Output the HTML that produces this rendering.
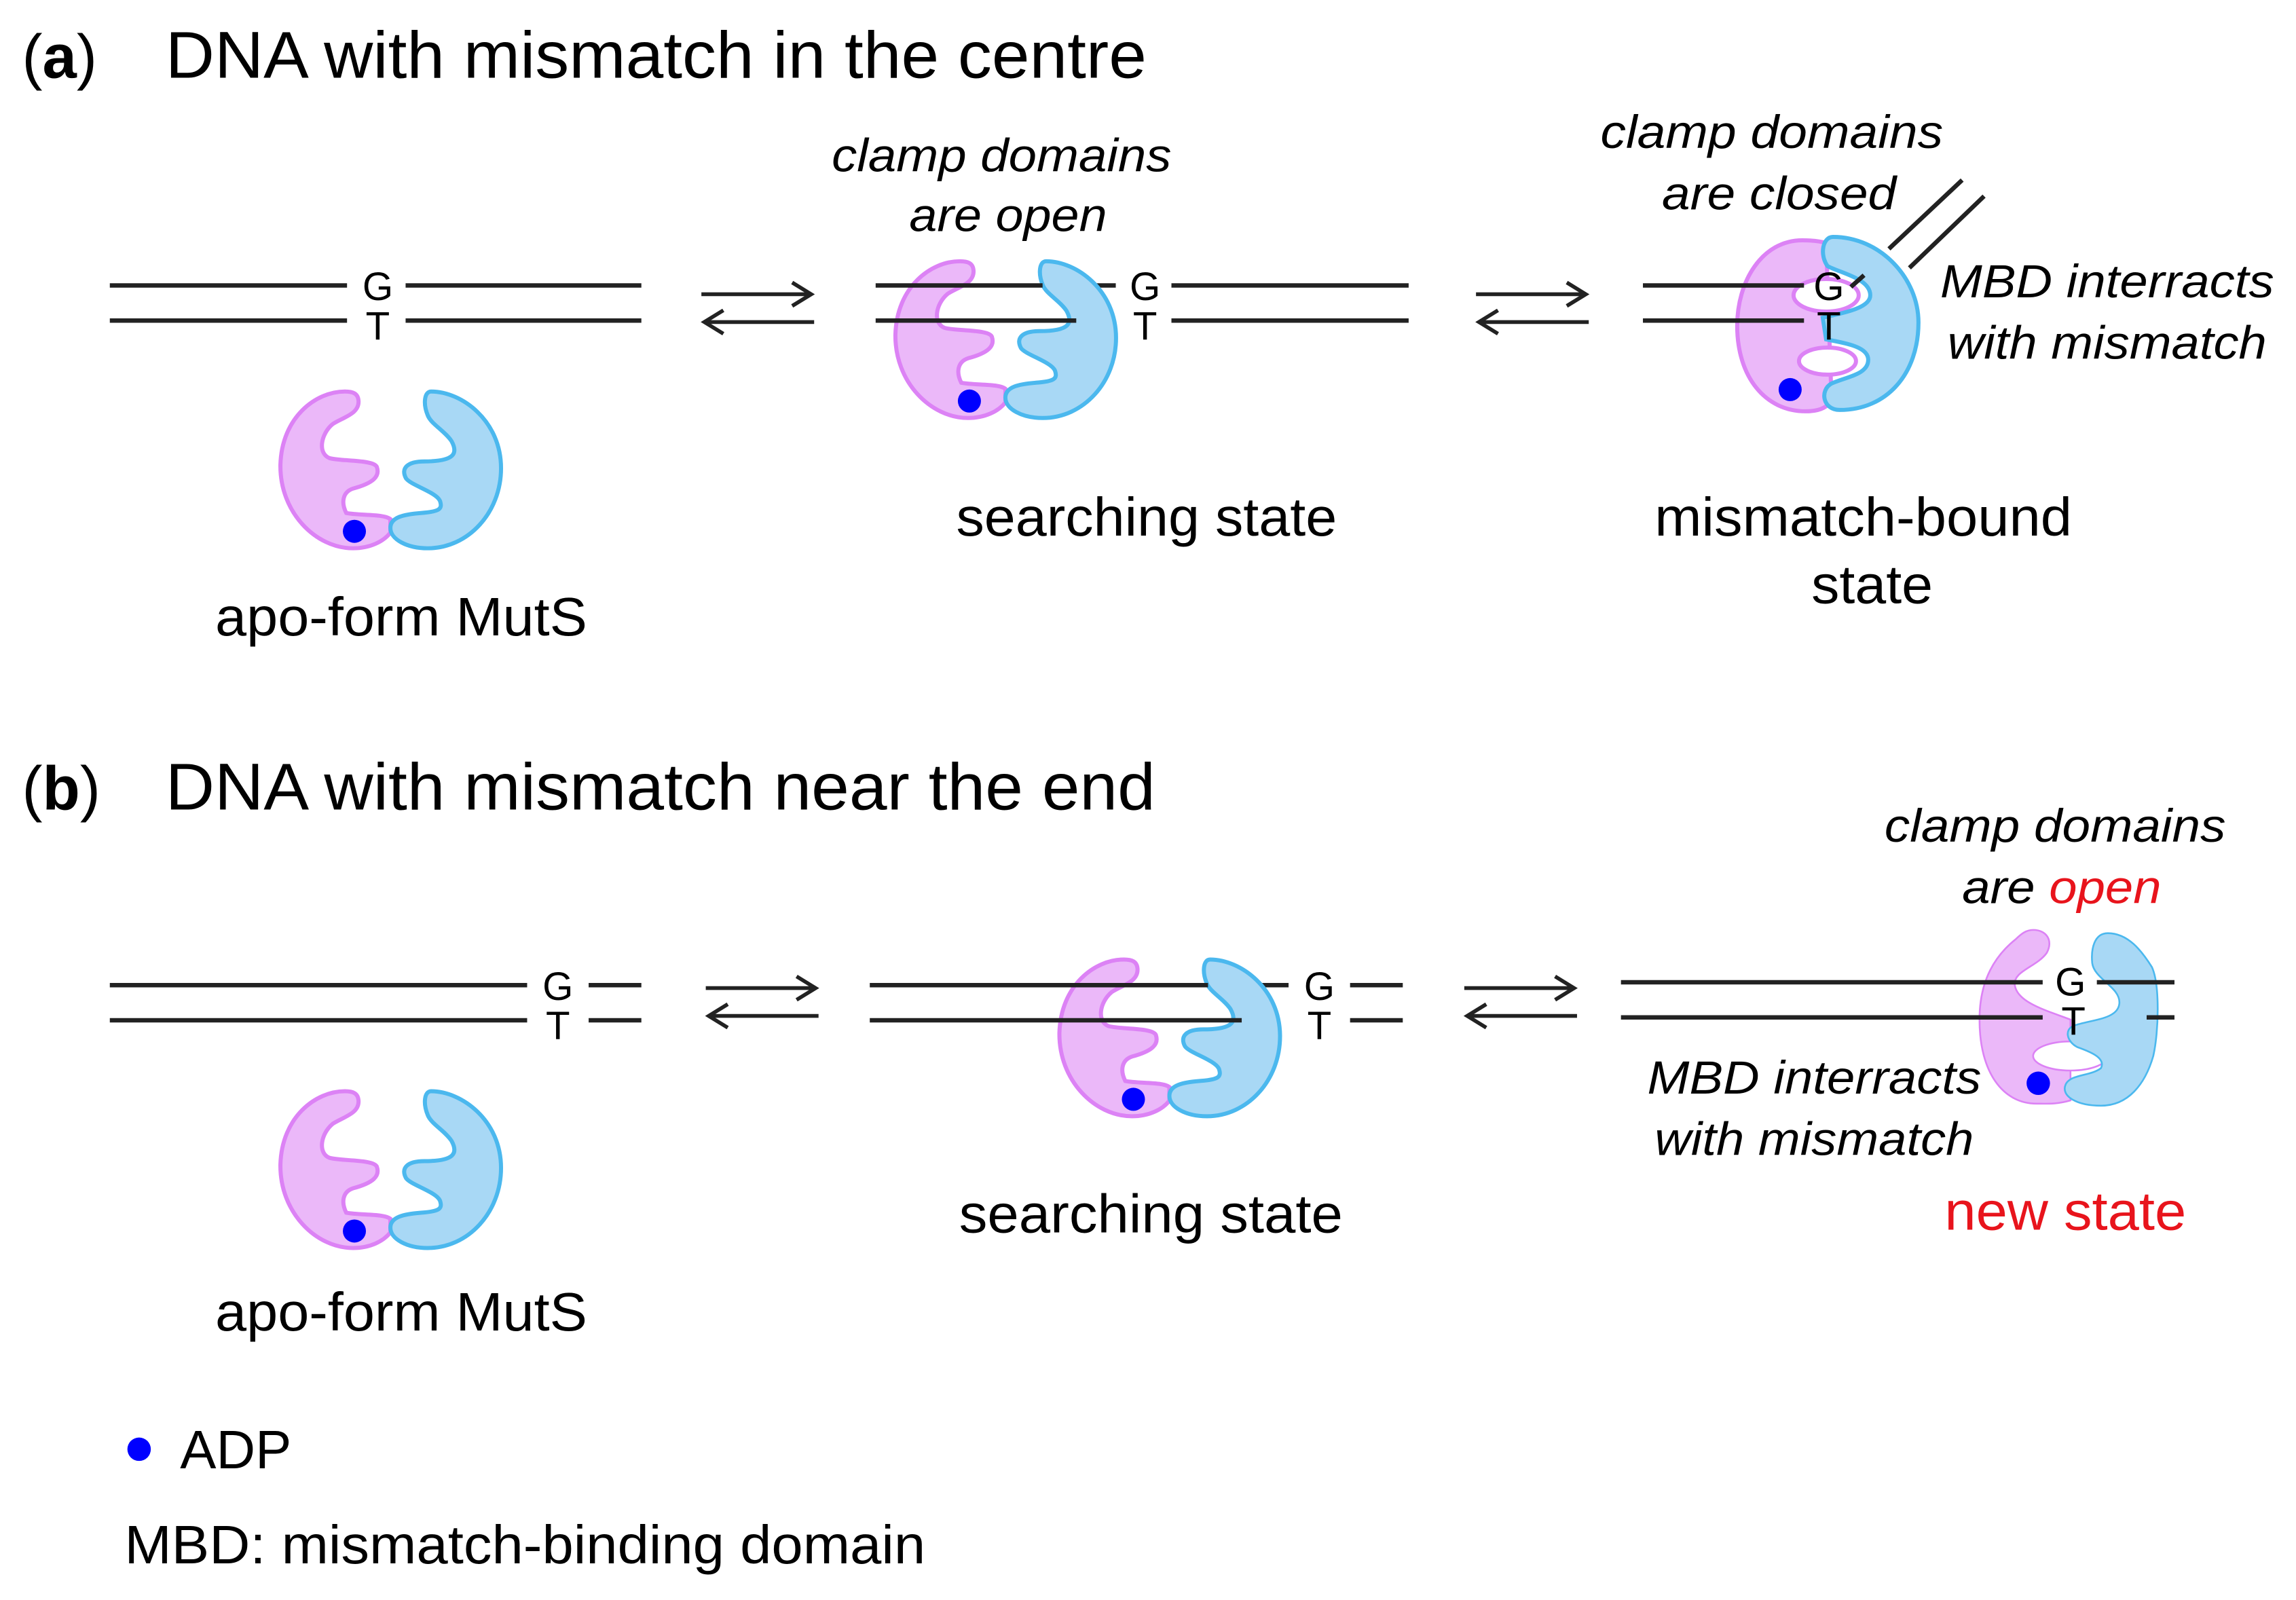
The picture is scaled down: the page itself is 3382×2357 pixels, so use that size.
<!DOCTYPE html>
<html><head><meta charset="utf-8"><style>
html,body{margin:0;padding:0;background:#fff;}
svg{display:block;}
text{font-family:"Liberation Sans",Arial,sans-serif;fill:#000;}
.it{font-style:italic;}
</style></head><body>
<svg width="3382" height="2357" viewBox="0 0 1568 1093" preserveAspectRatio="none" xmlns="http://www.w3.org/2000/svg">
<defs>
  <g id="apo">
    <path d="M128,37 C85,37 35,75 33,145 C32,215 85,268 140,268 C165,268 185,258 195,245 L195,225 C185,217 150,220 130,216 C122,200 125,185 140,180 C170,172 180,162 175,148 C170,137 120,140 105,135 C88,128 92,100 110,85 C125,75 150,70 148,50 C147,40 140,37 128,37 Z" fill="#ebb8f9" stroke="#dc82f5" stroke-width="6"/>
    <path d="M255,37 C300,37 358,80 358,150 C358,215 310,268 250,268 C220,268 195,255 195,238 C195,222 215,218 240,216 C268,214 272,210 268,198 C262,185 225,175 218,165 C210,150 220,140 245,140 C290,140 295,128 285,110 C275,95 255,85 250,72 C243,55 245,37 255,37 Z" fill="#a8d8f5" stroke="#4bb8ee" stroke-width="6"/>
    <circle cx="142" cy="243" r="17" fill="#0000ff"/>
  </g>
  <g id="arrows">
    <line x1="0" y1="0" x2="75" y2="0" stroke="#222" stroke-width="2.6"/>
    <polyline points="62,-8 75,0 62,8" fill="none" stroke="#222" stroke-width="2.6"/>
    <line x1="2" y1="19" x2="77" y2="19" stroke="#222" stroke-width="2.6"/>
    <polyline points="15,11 2,19 15,27" fill="none" stroke="#222" stroke-width="2.6"/>
  </g>
</defs>

<!-- (a) -->
<text x="15" y="53" font-size="42">(<tspan font-weight="bold">a</tspan>)</text>
<text x="113" y="53" font-size="45" textLength="670" lengthAdjust="spacingAndGlyphs">DNA with mismatch in the centre</text>

<g stroke="#222" stroke-width="3">
  <line x1="75" y1="195" x2="237" y2="195"/><line x1="277" y1="195" x2="438" y2="195"/>
  <line x1="75" y1="219" x2="237" y2="219"/><line x1="277" y1="219" x2="438" y2="219"/>
</g>
<text x="258" y="205" font-size="27" text-anchor="middle">G</text>
<text x="258" y="232" font-size="27" text-anchor="middle">T</text>
<g transform="translate(176.2,250.3) scale(0.4636)"><use href="#apo"/></g>
<text x="147" y="434" font-size="37" textLength="254" lengthAdjust="spacingAndGlyphs">apo-form MutS</text>

<g transform="translate(479,201)"><use href="#arrows"/></g>

<!-- searching a -->
<g stroke="#222" stroke-width="3">
  <line x1="800" y1="195" x2="962" y2="195"/>
  <line x1="800" y1="219" x2="962" y2="219"/>
  <line x1="740" y1="195" x2="762" y2="195"/>
</g>
<g transform="translate(596.2,161.3) scale(0.4636)"><use href="#apo"/></g>
<line x1="598" y1="195" x2="712" y2="195" stroke="#222" stroke-width="3"/>
<line x1="598" y1="219" x2="735" y2="219" stroke="#222" stroke-width="3"/>
<text x="782" y="205" font-size="27" text-anchor="middle">G</text>
<text x="782" y="232" font-size="27" text-anchor="middle">T</text>
<text x="568" y="117" font-size="32" class="it" textLength="232" lengthAdjust="spacingAndGlyphs">clamp domains</text>
<text x="621" y="158" font-size="32" class="it" textLength="135" lengthAdjust="spacingAndGlyphs">are open</text>
<text x="653" y="366" font-size="37" textLength="260" lengthAdjust="spacingAndGlyphs">searching state</text>

<g transform="translate(1008,201)"><use href="#arrows"/></g>

<!-- mismatch bound a -->
<g transform="translate(1103.4,111.3) scale(0.4636)">
  <path d="M275,114 C215,114 179,175 179,240 C179,315 220,366 280,366 C300,366 312,360 318,350 L310,118 C300,115 290,114 275,114 Z" fill="#ebb8f9" stroke="#dc82f5" stroke-width="6"/>
  <ellipse cx="310" cy="195" rx="48" ry="24" fill="#fff" stroke="#dc82f5" stroke-width="6"/>
  <ellipse cx="312" cy="292" rx="42" ry="20" fill="#fff" stroke="#dc82f5" stroke-width="6"/>
  <path d="M320,109 C390,109 446,170 446,235 C446,310 400,364 330,364 C305,364 300,335 318,325 C340,315 372,312 372,290 C372,270 335,265 310,260 L305,228 C330,222 375,215 375,195 C375,170 330,162 312,152 C300,135 305,109 320,109 Z" fill="#a8d8f5" stroke="#4bb8ee" stroke-width="6"/>
  <circle cx="257" cy="334" r="17" fill="#0000ff"/>
</g>
<g stroke="#222" stroke-width="3">
  <line x1="1122" y1="195" x2="1232" y2="195"/>
  <line x1="1122" y1="219" x2="1232" y2="219"/>
  <line x1="1264" y1="196" x2="1273" y2="188"/>
  <line x1="1290" y1="170" x2="1340" y2="123"/>
  <line x1="1304" y1="183" x2="1355" y2="134"/>
</g>
<text x="1249" y="205" font-size="27" text-anchor="middle">G</text>
<text x="1249" y="232" font-size="27" text-anchor="middle">T</text>
<text x="1093" y="101" font-size="32" class="it" textLength="234" lengthAdjust="spacingAndGlyphs">clamp domains</text>
<text x="1135" y="143" font-size="32" class="it" textLength="160" lengthAdjust="spacingAndGlyphs">are closed</text>
<text x="1325" y="203" font-size="32" class="it" textLength="228" lengthAdjust="spacingAndGlyphs">MBD interracts</text>
<text x="1330" y="245" font-size="32" class="it" textLength="218" lengthAdjust="spacingAndGlyphs">with mismatch</text>
<text x="1130" y="366" font-size="37" textLength="285" lengthAdjust="spacingAndGlyphs">mismatch-bound</text>
<text x="1237" y="412" font-size="37" textLength="83" lengthAdjust="spacingAndGlyphs">state</text>

<!-- (b) -->
<text x="15" y="553" font-size="42">(<tspan font-weight="bold">b</tspan>)</text>
<text x="113" y="553" font-size="45" textLength="676" lengthAdjust="spacingAndGlyphs">DNA with mismatch near the end</text>

<g stroke="#222" stroke-width="3">
  <line x1="75" y1="673" x2="360" y2="673"/><line x1="402" y1="673" x2="438" y2="673"/>
  <line x1="75" y1="697" x2="360" y2="697"/><line x1="402" y1="697" x2="438" y2="697"/>
</g>
<text x="381" y="683" font-size="27" text-anchor="middle">G</text>
<text x="381" y="710" font-size="27" text-anchor="middle">T</text>
<g transform="translate(176.2,728.3) scale(0.4636)"><use href="#apo"/></g>
<text x="147" y="909" font-size="37" textLength="254" lengthAdjust="spacingAndGlyphs">apo-form MutS</text>

<g transform="translate(482,675)"><use href="#arrows"/></g>

<!-- searching b -->
<g stroke="#222" stroke-width="3">
  <line x1="922" y1="673" x2="958" y2="673"/>
  <line x1="922" y1="697" x2="958" y2="697"/>
  <line x1="855" y1="673" x2="880" y2="673"/>
</g>
<g transform="translate(708.2,638.3) scale(0.4636)"><use href="#apo"/></g>
<g stroke="#222" stroke-width="3">
  <line x1="594" y1="673" x2="825" y2="673"/>
  <line x1="594" y1="697" x2="848" y2="697"/>
</g>
<text x="901" y="683" font-size="27" text-anchor="middle">G</text>
<text x="901" y="710" font-size="27" text-anchor="middle">T</text>
<text x="655" y="842" font-size="37" textLength="262" lengthAdjust="spacingAndGlyphs">searching state</text>

<g transform="translate(1000,675)"><use href="#arrows"/></g>

<!-- new state b -->
<g transform="translate(1094.1,622) scale(0.4636,0.276)">
  <path vector-effect="non-scaling-stroke" d="M635,48 C655,48 665,75 655,105 C640,140 605,150 608,185 C612,230 660,250 690,270 L690,470 C670,480 655,478 640,478 C590,478 556,400 556,270 C556,170 580,110 610,70 C618,57 625,48 635,48 Z" fill="#ebb8f9" stroke="#dc82f5" stroke-width="2.6"/>
  <ellipse vector-effect="non-scaling-stroke" cx="690" cy="360" rx="55" ry="36" fill="#fff" stroke="#dc82f5" stroke-width="2.6"/>
  <path vector-effect="non-scaling-stroke" d="M745,56 C775,56 795,100 810,140 C822,185 820,300 812,360 C800,430 775,483 735,483 C700,483 675,460 683,430 C690,405 720,410 735,390 C742,365 720,350 700,338 C685,325 680,295 695,285 C720,270 760,270 762,230 C764,190 725,170 722,130 C720,95 725,56 745,56 Z" fill="#a8d8f5" stroke="#4bb8ee" stroke-width="2.6"/>
</g>
<ellipse cx="1392" cy="740" rx="8" ry="8" fill="#0000ff"/>
<g stroke="#222" stroke-width="3">
  <line x1="1107" y1="671" x2="1395" y2="671"/><line x1="1432" y1="671" x2="1485" y2="671"/>
  <line x1="1107" y1="695" x2="1395" y2="695"/><line x1="1466" y1="695" x2="1485" y2="695"/>
</g>
<text x="1414" y="680" font-size="27" text-anchor="middle">G</text>
<text x="1416" y="707" font-size="27" text-anchor="middle">T</text>
<text x="1287" y="575" font-size="32" class="it" textLength="233" lengthAdjust="spacingAndGlyphs">clamp domains</text>
<text x="1340" y="617" font-size="32" class="it" textLength="136" lengthAdjust="spacingAndGlyphs">are <tspan style="fill:#e8141c">open</tspan></text>
<text x="1125" y="747" font-size="32" class="it" textLength="228" lengthAdjust="spacingAndGlyphs">MBD interracts</text>
<text x="1130" y="789" font-size="32" class="it" textLength="218" lengthAdjust="spacingAndGlyphs">with mismatch</text>
<text x="1328" y="840" font-size="37" style="fill:#e8141c" textLength="165" lengthAdjust="spacingAndGlyphs">new state</text>

<!-- legend -->
<circle cx="95" cy="990" r="8" fill="#0000ff"/>
<text x="123" y="1003" font-size="37">ADP</text>
<text x="85" y="1068" font-size="37" textLength="547" lengthAdjust="spacingAndGlyphs">MBD: mismatch-binding domain</text>
</svg>
</body></html>
